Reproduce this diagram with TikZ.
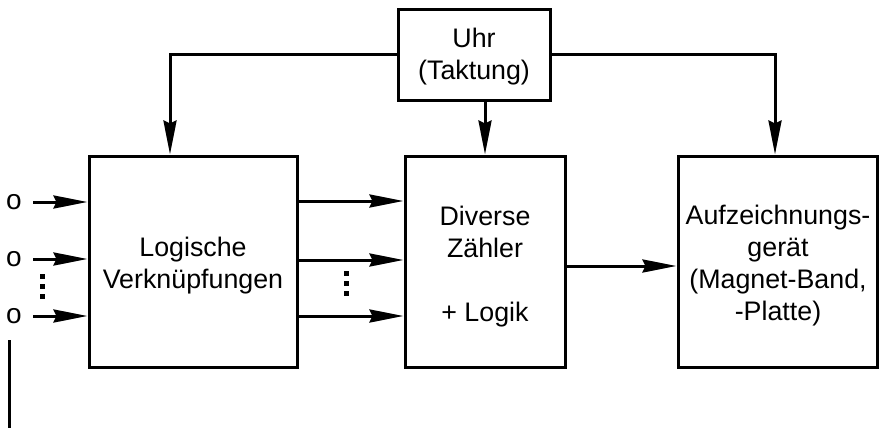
\documentclass[tikz,border=0pt]{standalone}
\usepackage{fontspec}
\setmainfont{Liberation Sans}
\usetikzlibrary{arrows.meta}
\begin{document}
\begin{tikzpicture}[x=1pt,y=-1pt, line width=3pt,
 blk/.style={draw, line width=3pt, inner sep=0pt},
 txt/.style={align=center, inner sep=0pt, font=\fontsize{26.8}{32}\selectfont},
 arr/.style={-{Stealth[length=34pt,width=13pt,inset=3pt]}},
 sq/.style={fill, minimum size=5pt, inner sep=0pt},
 inp/.style={inner sep=0pt, font=\fontsize{28}{32}\selectfont}]
\useasboundingbox (0,0) rectangle (880,428);
% boxes
\node[blk, minimum width=152pt, minimum height=90pt] (uhr) at (474,55) {};
\node[txt] (uhrt) at (474,57) {Uhr\\(Taktung)};
\node[blk, minimum width=208pt, minimum height=211pt] (logic) at (193,261.5) {};
\node[txt] (logict) at (193,266) {Logische\\Verknüpfungen};
\node[blk, minimum width=160pt, minimum height=211pt] (mid) at (485,261.5) {};
\node[txt] (midt) at (485,267) {Diverse\\Zähler\\\strut\\+ Logik};
\node[blk, minimum width=199pt, minimum height=211pt] (rec) at (777.5,261.5) {};
\node[txt] (rect) at (778,266) {Aufzeichnungs-\\gerät\\(Magnet-Band,\\-Platte)};
% clock lines
\coordinate (cl) at (170,55);
\coordinate (cr) at (775,55);
\draw[arr] (uhr.west) -| (logic.north -| cl);
\draw[arr] (uhr.east) -| (rec.north -| cr);
\draw[arr] (uhr.south -| mid.north) -- (mid.north);
% inputs
\node[inp] (o1) at (14,202) {o};
\node[inp] (o2) at (14,259) {o};
\node[inp] (o3) at (14,316) {o};
\draw[arr] ([xshift=10pt]o1.east) -- (o1 -| logic.west);
\draw[arr] ([xshift=10pt]o2.east) -- (o2 -| logic.west);
\draw[arr] ([xshift=10pt]o3.east) -- (o3 -| logic.west);
\node[sq] (d1) at (42,276) {};
\node[sq] (d2) at (42,286) {};
\node[sq] (d3) at (42,296) {};
% middle connections
\coordinate (m1) at (0,201);
\coordinate (m2) at (0,260);
\coordinate (m3) at (0,316);
\draw[arr] (m1 -| logic.east) -- (m1 -| mid.west);
\draw[arr] (m2 -| logic.east) -- (m2 -| mid.west);
\draw[arr] (m3 -| logic.east) -- (m3 -| mid.west);
\node[sq] (e1) at (346,273) {};
\node[sq] (e2) at (346,283) {};
\node[sq] (e3) at (346,293) {};
% output
\coordinate (m4) at (0,266);
\draw[arr] (m4 -| mid.east) -- (m4 -| rec.west);
% vertical line
\coordinate (v1) at (9,340);
\coordinate (v2) at (9,428);
\draw (v1) -- (v2);
\end{tikzpicture}
\end{document}
